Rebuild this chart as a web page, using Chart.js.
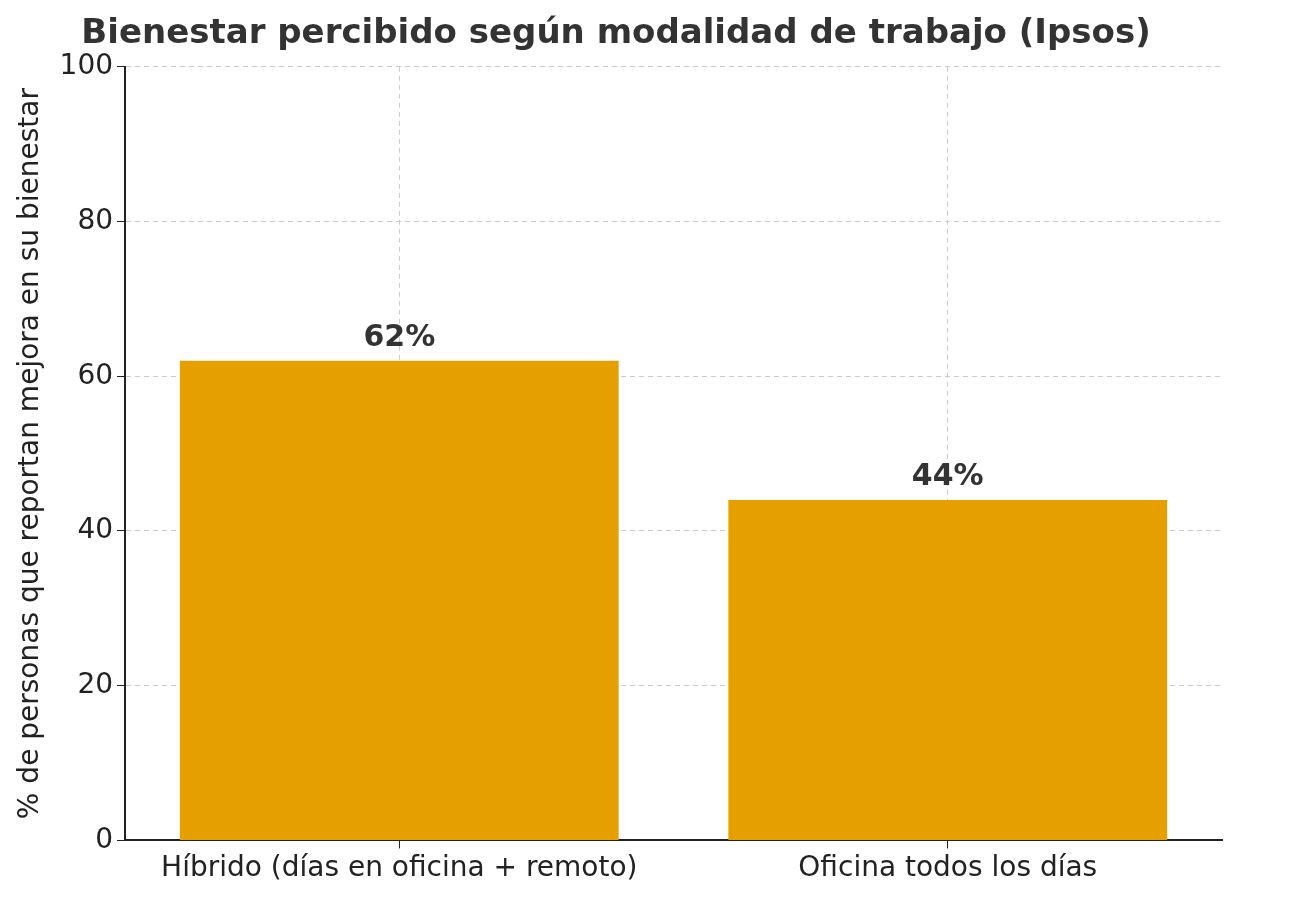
<!DOCTYPE html>
<html>
<head>
<meta charset="utf-8">
<script src="https://cdn.jsdelivr.net/npm/chart.js@4"></script>
<style>
  body { margin: 0; background: #fff; }
</style>
</head>
<body>
<canvas id="chart" width="1310" height="900"></canvas>
<script>
const categories = ['Híbrido (días en oficina + remoto)', 'Oficina todos los días'];
const values = [62, 44];
const yTicks = [0, 20, 40, 60, 80, 100];

// etiquetas encima de cada barra
const barLabels = {
  id: 'barLabels',
  afterDatasetsDraw(chart) {
    const ctx = chart.ctx;
    const meta = chart.getDatasetMeta(0);
    ctx.save();
    ctx.font = 'bold 30px "DejaVu Sans"';
    ctx.fillStyle = '#333333';
    ctx.textAlign = 'center';
    ctx.textBaseline = 'bottom';
    meta.data.forEach((bar, i) => {
      ctx.fillText(values[i] + '%', bar.x, bar.y - 8);
    });
    ctx.restore();
  }
};

new Chart(document.getElementById('chart'), {
  type: 'bar',
  data: {
    labels: categories,
    datasets: [{
      data: values,
      backgroundColor: '#E5A000',
      categoryPercentage: 0.8,
      barPercentage: 1.0
    }]
  },
  options: {
    responsive: false,
    animation: false,
    layout: { padding: { left: 10, right: 88, top: 0, bottom: 10 } },
    plugins: {
      legend: { display: false },
      tooltip: { enabled: false },
      title: {
        display: true,
        text: 'Bienestar percibido según modalidad de trabajo (Ipsos)',
        font: { family: 'DejaVu Sans', size: 34, weight: 'bold' },
        color: '#333333',
        padding: { top: 14, bottom: 12 }
      }
    },
    scales: {
      x: {
        z: 1,
        grid: { offset: false, color: '#cccccc', tickColor: '#222', tickLength: 8 },
        border: { display: true, color: '#222', width: 2, dash: [5, 4] },
        ticks: { font: { family: 'DejaVu Sans', size: 28 }, color: '#222', padding: 4, maxRotation: 0 }
      },
      y: {
        z: 1,
        min: 0,
        max: 100,
        afterBuildTicks(scale) { scale.ticks = yTicks.map(v => ({ value: v })); },
        grid: { color: '#cccccc', tickColor: '#222', tickLength: 8 },
        border: { display: true, color: '#222', width: 2, dash: [5, 4] },
        ticks: { font: { family: 'DejaVu Sans', size: 28 }, color: '#222', padding: 4 },
        title: {
          display: true,
          text: '% de personas que reportan mejora en su bienestar',
          font: { family: 'DejaVu Sans', size: 28 },
          color: '#222',
          padding: { bottom: 8 }
        }
      }
    }
  },
  plugins: [barLabels]
});
</script>
</body>
</html>
